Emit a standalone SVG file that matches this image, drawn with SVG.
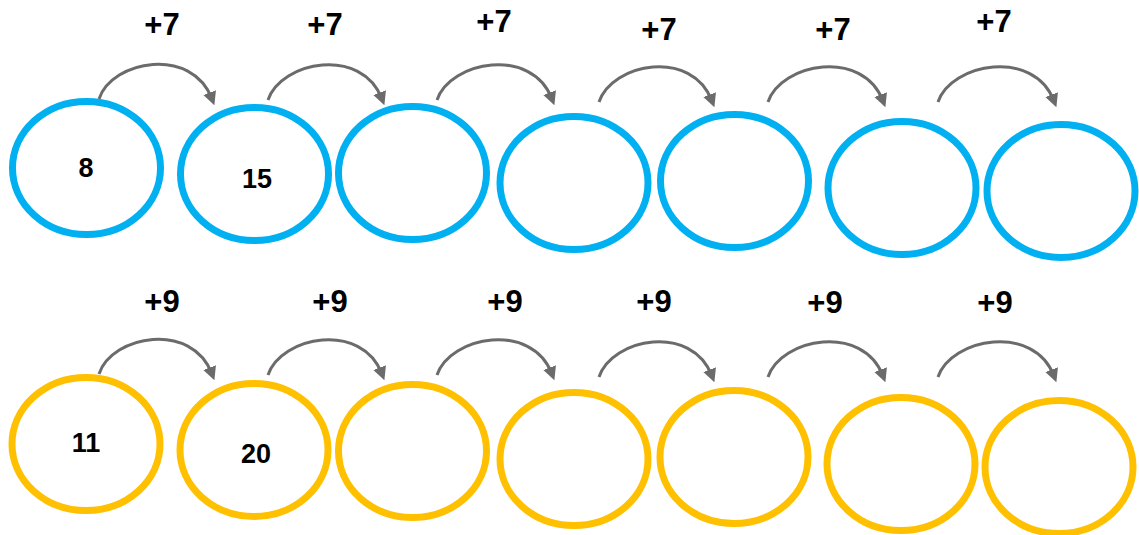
<svg xmlns="http://www.w3.org/2000/svg" width="1139" height="535" viewBox="0 0 1139 535">
<style>
.b{fill:#fff;stroke:#00B0F0;stroke-width:7}
.y{fill:#fff;stroke:#FFC000;stroke-width:7}
.t{font-family:"Liberation Sans",Arial,sans-serif;font-weight:bold;fill:#000;text-anchor:middle}
.n{font-size:27px}
.l{font-size:31px}
.a{fill:none;stroke:#6b6b6b;stroke-width:3;marker-end:url(#ah)}
</style>
<defs>
<marker id="ah" viewBox="0 0 10 10" refX="5" refY="5" markerWidth="4.5" markerHeight="4.5" orient="auto" markerUnits="strokeWidth">
<path d="M0,0 L10,5 L0,10 Z" fill="#6b6b6b"/>
</marker>
</defs>
<rect width="1139" height="535" fill="#fff"/>
<g id="connectors">
<path class="a" d="M99,99 C112,60 192,46 212,99"/>
<path class="a" d="M268,100 C281,61 362,46 382,99"/>
<path class="a" d="M437,100 C450,61 532,46 552,99"/>
<path class="a" d="M599,102 C612,63 692,48 712,101"/>
<path class="a" d="M768,102 C781,63 863,48 883,101"/>
<path class="a" d="M938,102 C951,63 1034,48 1054,101"/>
<path class="a" d="M99,374 C112,335 192,321 212,374"/>
<path class="a" d="M268,375 C281,336 362,321 382,374"/>
<path class="a" d="M437,375 C450,336 532,321 552,374"/>
<path class="a" d="M599,377 C612,338 692,323 712,376"/>
<path class="a" d="M768,377 C781,338 863,323 883,376"/>
<path class="a" d="M938,377 C951,338 1034,323 1054,376"/>
</g>
<g id="labels">
<text class="t l" x="162" y="35">+7</text>
<text class="t l" x="325" y="35">+7</text>
<text class="t l" x="494" y="32">+7</text>
<text class="t l" x="659" y="40">+7</text>
<text class="t l" x="833" y="40">+7</text>
<text class="t l" x="994" y="32">+7</text>
<text class="t l" x="162" y="312">+9</text>
<text class="t l" x="330" y="312">+9</text>
<text class="t l" x="505" y="312">+9</text>
<text class="t l" x="654" y="312">+9</text>
<text class="t l" x="825" y="313">+9</text>
<text class="t l" x="995" y="313">+9</text>
</g>
<g id="b1"><ellipse class="b" cx="86.5" cy="168" rx="74" ry="66.5"/><text class="t n" x="86" y="177">8</text></g>
<g id="b2"><ellipse class="b" cx="254.5" cy="174" rx="74" ry="66.5"/><text class="t n" x="257" y="188">15</text></g>
<g id="b3"><ellipse class="b" cx="412.5" cy="173" rx="74" ry="66.5"/></g>
<g id="b4"><ellipse class="b" cx="574" cy="183" rx="74" ry="66.5"/></g>
<g id="b5"><ellipse class="b" cx="734.5" cy="181" rx="74" ry="66.5"/></g>
<g id="b6"><ellipse class="b" cx="902" cy="188" rx="74" ry="66.5"/></g>
<g id="b7"><ellipse class="b" cx="1061" cy="191" rx="74" ry="66.5"/></g>
<g id="y1"><ellipse class="y" cx="86" cy="444" rx="74" ry="66.5"/><text class="t n" x="86" y="452">11</text></g>
<g id="y2"><ellipse class="y" cx="254" cy="450" rx="74" ry="66.5"/><text class="t n" x="256" y="463">20</text></g>
<g id="y3"><ellipse class="y" cx="412.5" cy="451" rx="74" ry="66.5"/></g>
<g id="y4"><ellipse class="y" cx="574" cy="459" rx="74" ry="66.5"/></g>
<g id="y5"><ellipse class="y" cx="734" cy="457" rx="74" ry="66.5"/></g>
<g id="y6"><ellipse class="y" cx="901" cy="464" rx="74" ry="66.5"/></g>
<g id="y7"><ellipse class="y" cx="1059" cy="467" rx="74" ry="66.5"/></g>
</svg>
